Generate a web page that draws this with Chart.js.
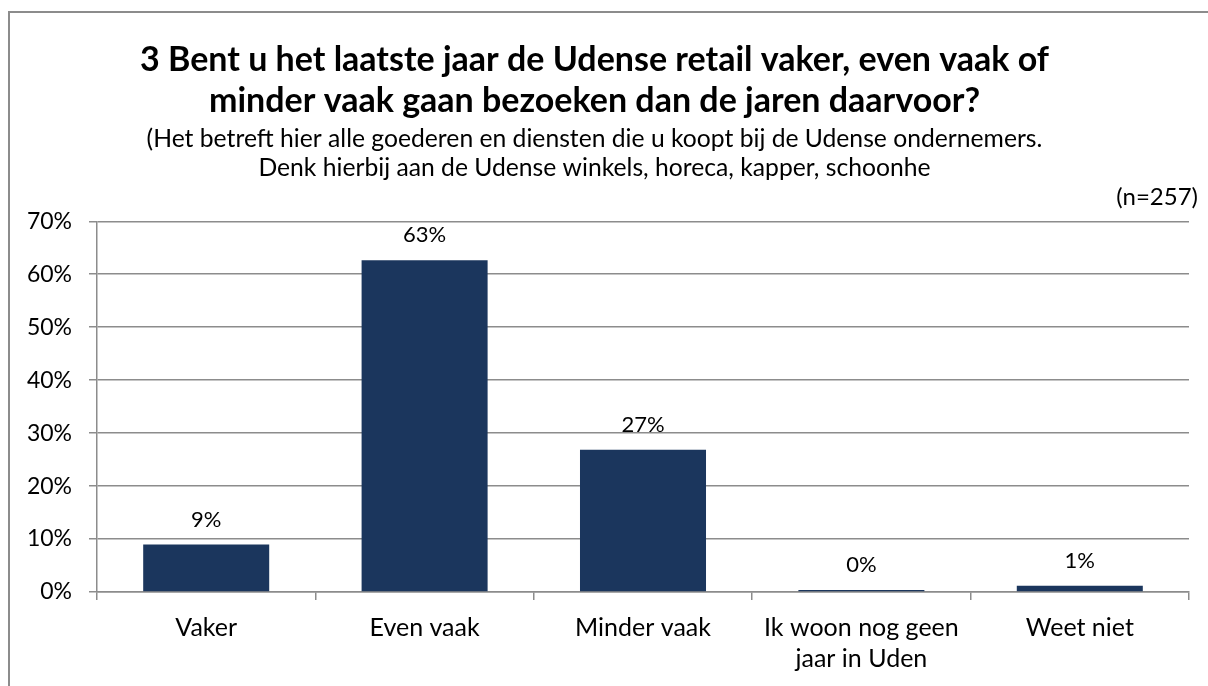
<!DOCTYPE html>
<html lang="nl">
<head>
  <meta charset="UTF-8">
  <title>Bezoek Udense retail</title>
  <script src="https://cdn.jsdelivr.net/npm/chart.js"></script>
  <style>
    html, body {
      margin: 0;
      padding: 0;
      background: #fff;
      overflow: hidden;
    }
    .wrap {
      position: relative;
      width: 1208px;
      height: 686px;
    }
    .frame {
      position: absolute;
      left: 8px;
      top: 11px;
      width: 1400px;
      height: 900px;
      border: 2px solid #8c8c8c;
    }
    canvas {
      position: absolute;
      left: 0;
      top: 0;
    }
  </style>
</head>
<body>
  <div class="wrap">
    <div class="frame"></div>
    <canvas id="chart" width="1208" height="686"></canvas>
  </div>

  <script>
    // data (n=257)
    const categories = ['Vaker', 'Even vaak', 'Minder vaak', ['Ik woon nog geen', 'jaar in Uden'], 'Weet niet'];
    const percentages = [8.95, 62.65, 26.85, 0.39, 1.17];
    const yTicks = [0, 10, 20, 30, 40, 50, 60, 70];

    const titleLines = [
      '3 Bent u het laatste jaar de Udense retail vaker, even vaak of',
      'minder vaak gaan bezoeken dan de jaren daarvoor?'
    ];
    const subtitleLines = [
      '(Het betreft hier alle goederen en diensten die u koopt bij de Udense ondernemers.',
      'Denk hierbij aan de Udense winkels, horeca, kapper, schoonhe'
    ];
    const sampleNote = '(n=257)';

    const FONT = 'Lato, "Open Sans", sans-serif';
    const gridColor = '#8c8c8c';

    // value labels on top of the bars + the (n=...) note
    const barLabels = {
      id: 'barLabels',
      afterDatasetsDraw(chart) {
        const ctx = chart.ctx;
        const meta = chart.getDatasetMeta(0);
        ctx.save();
        ctx.font = '22px ' + FONT;
        ctx.fillStyle = '#000';
        ctx.textAlign = 'center';
        ctx.textBaseline = 'alphabetic';
        meta.data.forEach((bar, i) => {
          ctx.fillText(Math.round(percentages[i]) + '%', bar.x, bar.y - 18);
        });
        ctx.font = '24px ' + FONT;
        ctx.textAlign = 'right';
        ctx.textBaseline = 'middle';
        ctx.fillText(sampleNote, 1198, 197);
        ctx.restore();
      }
    };

    new Chart(document.getElementById('chart').getContext('2d'), {
      type: 'bar',
      data: {
        labels: categories,
        datasets: [{
          data: percentages,
          backgroundColor: '#1b365d',
          borderWidth: 0,
          categoryPercentage: 1,
          barPercentage: 0.577
        }]
      },
      options: {
        responsive: false,
        animation: false,
        layout: {
          padding: { top: 0, right: 19, bottom: 0, left: 0 }
        },
        plugins: {
          legend: { display: false },
          tooltip: { enabled: false },
          title: {
            display: true,
            text: titleLines,
            color: '#000',
            font: { family: FONT, size: 34, weight: 'bold', lineHeight: 1.206 },
            padding: { top: 40, bottom: 0 }
          },
          subtitle: {
            display: true,
            text: subtitleLines,
            color: '#000',
            font: { family: FONT, size: 24.7, lineHeight: 1.2 },
            padding: { top: 2, bottom: 38 }
          }
        },
        scales: {
          x: {
            grid: {
              offset: true,
              drawOnChartArea: false,
              drawTicks: true,
              tickLength: 8,
              color: gridColor,
              lineWidth: 1.5
            },
            border: { display: true, color: gridColor, width: 1.5 },
            ticks: {
              color: '#000',
              font: { family: FONT, size: 25, lineHeight: 1.24 },
              padding: 12,
              maxRotation: 0,
              autoSkip: false
            },
            afterFit(scale) {
              scale.height = 94;
            }
          },
          y: {
            min: 0,
            max: 70,
            afterBuildTicks(scale) {
              scale.ticks = yTicks.map(v => ({ value: v }));
            },
            grid: {
              color: gridColor,
              lineWidth: 1.5,
              drawTicks: true,
              tickLength: 8
            },
            border: { display: true, color: gridColor, width: 1.5 },
            ticks: {
              color: '#000',
              font: { family: FONT, size: 23 },
              padding: 17,
              callback: v => v + '%'
            },
            afterFit(scale) {
              scale.width = 97;
            }
          }
        }
      },
      plugins: [barLabels]
    });
  </script>
</body>
</html>
